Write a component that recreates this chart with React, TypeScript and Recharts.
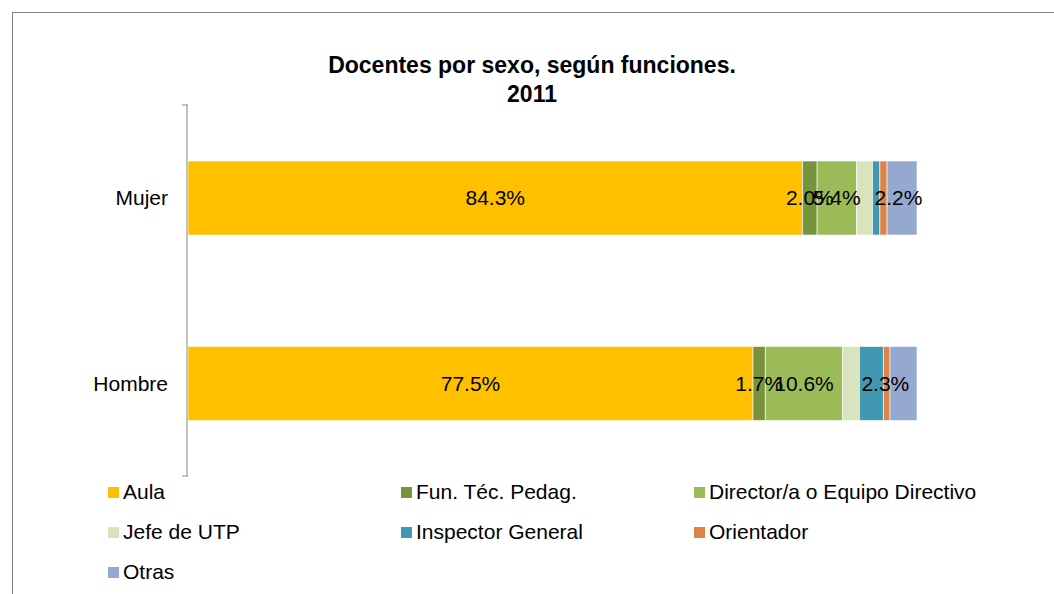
import { BarChart, Bar, XAxis, YAxis, LabelList, Legend } from "recharts";

const sexos = ["Mujer", "Hombre"];
const funciones = [
  "Aula",
  "Fun. Téc. Pedag.",
  "Director/a o Equipo Directivo",
  "Jefe de UTP",
  "Inspector General",
  "Orientador",
  "Otras",
];
const colores = ["#ffc000", "#77933c", "#9bbb59", "#d7e4bd", "#4298b0", "#de8445", "#95a8d0"];
// % por función, en el orden de "funciones"
const mujer = [84.3, 2.0, 5.4, 2.2, 1.0, 1.0, 4.1];
const hombre = [77.5, 1.7, 10.6, 2.3, 3.3, 0.9, 3.7];
// solo estas series llevan etiqueta
const conEtiqueta = [0, 1, 2, 3];
// límites entre categorías (marcas del eje)
const limites = [0, 1, 2];

const valores = [mujer, hombre];
const data = sexos.map((sexo, i) => {
  const row: Record<string, string | number> = { sexo };
  funciones.forEach((f, j) => (row[f] = valores[i][j]));
  return row;
});

const FONT = "'Liberation Sans', Arial, sans-serif";

const LegendBox = () => (
  <div style={{ position: "relative", width: 1054, height: 110, fontFamily: FONT }}>
    {funciones.map((f, i) => (
      <div
        key={f}
        style={{
          position: "absolute",
          left: 108 + (i % 3) * 293,
          top: Math.floor(i / 3) * 40,
          display: "flex",
          alignItems: "center",
          height: 24,
          fontSize: 21,
          color: "#000",
          whiteSpace: "nowrap",
        }}
      >
        <span style={{ width: 11, height: 11, background: colores[i], marginRight: 4 }} />
        {f}
      </div>
    ))}
  </div>
);

export default function App() {
  return (
    <div style={{ position: "absolute", left: 0, top: 0, width: 1054, height: 594, overflow: "hidden", background: "#fff" }}>
      <div
        style={{
          position: "absolute",
          left: 12,
          top: 12,
          width: 1100,
          height: 700,
          border: "1px solid #7f7f7f",
        }}
      />
      <div
        style={{
          position: "absolute",
          left: 0,
          width: 1064,
          top: 51,
          textAlign: "center",
          fontFamily: FONT,
          fontWeight: "bold",
          fontSize: 23,
          lineHeight: "29px",
          color: "#000",
        }}
      >
        Docentes por sexo, según funciones.
        <br />
        2011
      </div>
      <div style={{ position: "absolute", left: 0, top: 0 }}>
        <BarChart
          width={1054}
          height={594}
          data={data}
          layout="vertical"
          barSize={74}
          margin={{ top: 105, right: 137, bottom: 118, left: 88 }}
        >
          <XAxis type="number" domain={[0, 100]} hide />
          <YAxis
            yAxisId="b_cat"
            type="category"
            dataKey="sexo"
            width={99}
            axisLine={{ stroke: "#868686" }}
            tickLine={false}
            tickSize={0}
            tickMargin={19}
            tick={{ fontSize: 21, fill: "#000", fontFamily: FONT }}
          />
          <YAxis
            yAxisId="a_limites"
            type="number"
            domain={[0, 2]}
            ticks={limites}
            allowDataOverflow
            width={1}
            axisLine={false}
            tickLine={{ stroke: "#868686" }}
            tickSize={6}
            tick={() => <g />}
          />
          {funciones.map((f, i) => (
            <Bar
              key={f}
              yAxisId="b_cat"
              dataKey={f}
              stackId="a"
              fill={colores[i]}
              stroke="#ffffff"
              strokeWidth={0.6}
              isAnimationActive={false}
            >
              {conEtiqueta.includes(i) && (
                <LabelList
                  dataKey={f}
                  position={i === 3 ? "right" : "center"}
                  offset={2}
                  formatter={(v: number) => `${Number(v).toFixed(1)}%`}
                  style={{ fontSize: 21, fill: "#000", fontFamily: FONT }}
                />
              )}
            </Bar>
          ))}
          <Legend
            layout="horizontal"
            verticalAlign="middle"
            align="center"
            wrapperStyle={{ left: 0, top: 480, width: 1054 }}
            content={() => <LegendBox />}
          />
        </BarChart>
      </div>
    </div>
  );
}
